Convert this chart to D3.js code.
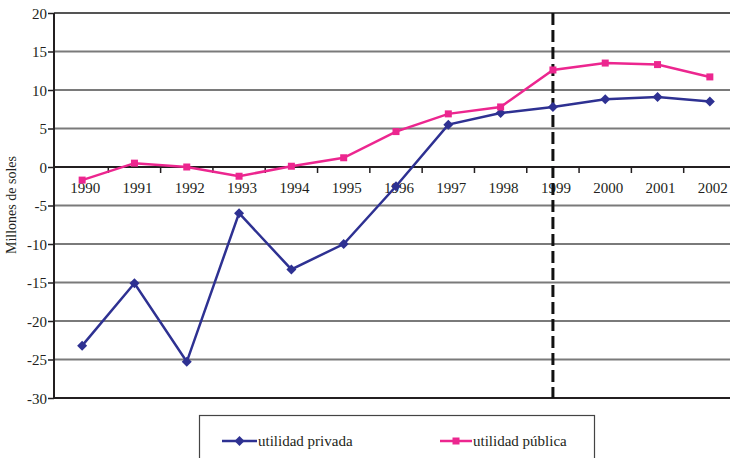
<!DOCTYPE html>
<html><head><meta charset="utf-8">
<script src="https://cdn.jsdelivr.net/npm/d3@7/dist/d3.min.js"></script>
<style>body{margin:0;background:#fff}svg{display:block}text{font-family:"Liberation Serif","DejaVu Serif",serif;fill:#231f20}</style>
</head><body><svg id="c" width="730" height="458"></svg>
<script>
const years = ["1990","1991","1992","1993","1994","1995","1996","1997","1998","1999","2000","2001","2002"];
const privada = [-23.2,-15.1,-25.3,-6.0,-13.3,-10.0,-2.5,5.5,7.0,7.8,8.8,9.1,8.5];
const publica = [-1.7,0.5,0.0,-1.2,0.1,1.2,4.6,6.9,7.8,12.6,13.5,13.3,11.7];
const yTicks = [20,15,10,5,0,-5,-10,-15,-20,-25,-30];
const seriesNames = ["utilidad privada","utilidad pública"];
const markYear = "1999";

const svg = d3.select("#c");
const x = d3.scaleBand().domain(years).range([56, 736]).padding(0);
const y = d3.scaleLinear().domain([-30, 20]).range([398, 13]);
const L = 54, R = 730;

// gridlines
svg.append("g").selectAll("line").data(yTicks.filter(d => d !== 0 && d !== -30)).join("line")
  .attr("x1", L).attr("x2", R).attr("y1", d => y(d)).attr("y2", d => y(d))
  .attr("stroke", d => d === 20 ? "#555" : "#7a7a7a").attr("stroke-width", 1.8);

// bottom line
svg.append("line").attr("x1", L).attr("x2", R).attr("y1", y(-30)).attr("y2", y(-30))
  .attr("stroke", "#231f20").attr("stroke-width", 2);

// y axis
const yAxis = d3.axisLeft(y).tickValues(yTicks).tickSize(6).tickFormat(d => String(d));
const gy = svg.append("g").attr("transform", `translate(${L},0)`).call(yAxis);
gy.select(".domain").attr("stroke", "#231f20").attr("stroke-width", 2).attr("d", `M0,${y(20)}V${y(-30)}`);
gy.selectAll(".tick line").attr("stroke", "#231f20").attr("stroke-width", 1.5);
gy.selectAll(".tick text").attr("font-size", 15).attr("x", -7).attr("dy", "0.35em")
  .style("font-family", '"Liberation Serif",serif').attr("fill", "#231f20");

// zero axis line
svg.append("line").attr("x1", L).attr("x2", R).attr("y1", y(0)).attr("y2", y(0))
  .attr("stroke", "#231f20").attr("stroke-width", 1.8);

// x ticks at band boundaries
svg.append("g").selectAll("line").data(years.slice(1)).join("line")
  .attr("x1", d => x(d)).attr("x2", d => x(d)).attr("y1", y(0)).attr("y2", y(0) + 6)
  .attr("stroke", "#231f20").attr("stroke-width", 1.5);

// x labels
svg.append("g").selectAll("text").data(years).join("text")
  .attr("x", d => x(d) + x.bandwidth() / 2 + 3).attr("y", y(0) + 26)
  .attr("text-anchor", "middle").attr("font-size", 15).text(d => d);

// dashed vertical line
const xm = x(markYear) + x.bandwidth() / 2;
svg.append("line").attr("x1", xm).attr("x2", xm).attr("y1", y(20)).attr("y2", y(-30))
  .attr("stroke", "#111").attr("stroke-width", 3).attr("stroke-dasharray", "12,5");

const cx = d => x(d) + x.bandwidth() / 2;
const line = d3.line().x((d, i) => cx(years[i])).y(d => y(d));
const blue = "#2e3192", pink = "#ec268f";

svg.append("path").datum(privada).attr("d", line).attr("fill", "none").attr("stroke", blue).attr("stroke-width", 2.5);
svg.append("path").datum(publica).attr("d", line).attr("fill", "none").attr("stroke", pink).attr("stroke-width", 2.5);

const diamond = "M0,-5L5,0L0,5L-5,0Z";
svg.append("g").selectAll("path").data(privada).join("path")
  .attr("d", diamond).attr("transform", (d, i) => `translate(${cx(years[i])},${y(d)})`).attr("fill", blue);
svg.append("g").selectAll("rect").data(publica).join("rect")
  .attr("x", (d, i) => cx(years[i]) - 3.5).attr("y", d => y(d) - 3.5).attr("width", 7).attr("height", 7).attr("fill", pink);

// y title
svg.append("text").attr("transform", "translate(16,205) rotate(-90)").attr("text-anchor", "middle")
  .attr("font-size", 14).text("Millones de soles");

// legend
svg.append("rect").attr("x", 199.5).attr("y", 415.5).attr("width", 395).attr("height", 60)
  .attr("fill", "none").attr("stroke", "#444").attr("stroke-width", 1.2);
const lg = [{c: blue, x0: 222, x1: 257, m: "d"}, {c: pink, x0: 440, x1: 472, m: "s"}];
lg.forEach((o, i) => {
  svg.append("line").attr("x1", o.x0).attr("x2", o.x1).attr("y1", 441).attr("y2", 441).attr("stroke", o.c).attr("stroke-width", 2.5);
  const mx = (o.x0 + o.x1) / 2;
  if (o.m === "d") svg.append("path").attr("d", diamond).attr("transform", `translate(${mx},441)`).attr("fill", o.c);
  else svg.append("rect").attr("x", mx - 3.5).attr("y", 437.5).attr("width", 7).attr("height", 7).attr("fill", o.c);
  svg.append("text").attr("x", o.x1 + 1).attr("y", 446).attr("font-size", 15).text(seriesNames[i]);
});
</script></body></html>
